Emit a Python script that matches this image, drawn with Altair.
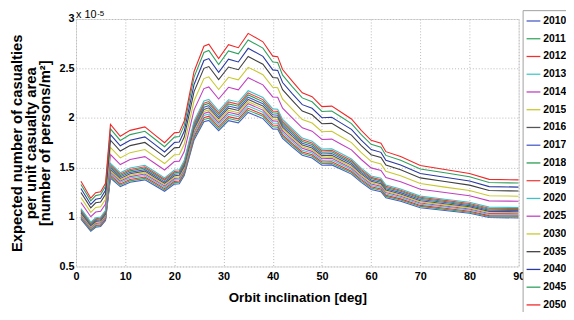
import altair as alt
import pandas as pd

# Orbit inclination [deg]
x_deg = [1, 3, 4, 5, 6, 7, 9, 11, 14, 16, 18, 20, 21, 22, 24, 26, 27, 29, 31, 33, 35,
         38, 40, 41, 42, 44, 46, 48, 50, 52, 54, 56, 58, 60, 62, 63, 66, 70, 75, 80, 84, 90]

years = ["2010", "2011", "2012", "2013", "2014", "2015", "2016", "2017", "2018",
         "2019", "2020", "2025", "2030", "2035", "2040", "2045", "2050"]

colors = ["#4a5cc8", "#3aa860", "#f03030", "#40c8c8", "#c040c0", "#c8c830", "#555555",
          "#4a5cc8", "#2a9a50", "#f04040", "#40c0c8", "#c040c0", "#c8c830", "#404040",
          "#2a3aa0", "#30a060", "#f02828"]

# values in units of 1e-5
y2010 = [0.979, 0.857, 0.896, 0.904, 0.965, 1.393, 1.307, 1.350, 1.375, 1.318, 1.260, 1.332, 1.336, 1.418, 1.778, 1.962, 1.976, 1.872, 1.973, 1.951, 2.056, 1.994, 1.890, 1.886, 1.793, 1.706, 1.624, 1.595, 1.523, 1.526, 1.480, 1.433, 1.350, 1.278, 1.256, 1.195, 1.159, 1.094, 1.066, 1.037, 0.994, 0.990]
y2011 = [0.990, 0.866, 0.906, 0.914, 0.976, 1.409, 1.321, 1.365, 1.390, 1.332, 1.274, 1.347, 1.350, 1.434, 1.798, 1.984, 1.998, 1.893, 1.995, 1.973, 2.078, 2.017, 1.911, 1.907, 1.813, 1.725, 1.642, 1.613, 1.540, 1.543, 1.496, 1.449, 1.365, 1.292, 1.270, 1.208, 1.172, 1.107, 1.077, 1.048, 1.005, 1.001]
y2012 = [1.000, 0.875, 0.915, 0.922, 0.985, 1.422, 1.334, 1.378, 1.404, 1.345, 1.286, 1.360, 1.363, 1.448, 1.815, 2.003, 2.018, 1.911, 2.014, 1.992, 2.098, 2.036, 1.929, 1.926, 1.830, 1.742, 1.657, 1.628, 1.555, 1.558, 1.510, 1.463, 1.378, 1.305, 1.283, 1.220, 1.183, 1.117, 1.088, 1.058, 1.014, 1.011]
y2013 = [1.010, 0.884, 0.925, 0.932, 0.996, 1.438, 1.349, 1.393, 1.419, 1.360, 1.300, 1.375, 1.378, 1.464, 1.835, 2.025, 2.040, 1.932, 2.036, 2.014, 2.121, 2.058, 1.950, 1.947, 1.850, 1.761, 1.675, 1.646, 1.571, 1.575, 1.527, 1.479, 1.393, 1.319, 1.297, 1.233, 1.196, 1.129, 1.100, 1.070, 1.025, 1.022]
y2014 = [1.021, 0.894, 0.935, 0.943, 1.006, 1.453, 1.363, 1.408, 1.434, 1.374, 1.314, 1.389, 1.393, 1.479, 1.855, 2.046, 2.061, 1.953, 2.058, 2.035, 2.144, 2.080, 1.971, 1.968, 1.870, 1.780, 1.694, 1.663, 1.588, 1.592, 1.543, 1.494, 1.408, 1.333, 1.310, 1.247, 1.209, 1.142, 1.111, 1.081, 1.036, 1.033]
y2015 = [1.031, 0.902, 0.944, 0.951, 1.016, 1.467, 1.376, 1.421, 1.448, 1.387, 1.327, 1.402, 1.406, 1.493, 1.872, 2.066, 2.081, 1.971, 2.077, 2.054, 2.164, 2.100, 1.990, 1.986, 1.887, 1.796, 1.709, 1.679, 1.603, 1.607, 1.558, 1.508, 1.421, 1.345, 1.323, 1.258, 1.220, 1.152, 1.122, 1.092, 1.046, 1.042]
y2016 = [1.042, 0.912, 0.954, 0.961, 1.026, 1.482, 1.390, 1.436, 1.463, 1.402, 1.341, 1.417, 1.421, 1.509, 1.892, 2.087, 2.103, 1.992, 2.099, 2.076, 2.187, 2.122, 2.011, 2.007, 1.907, 1.815, 1.727, 1.697, 1.620, 1.624, 1.574, 1.524, 1.436, 1.360, 1.337, 1.272, 1.233, 1.164, 1.134, 1.103, 1.057, 1.053]
y2017 = [1.053, 0.921, 0.964, 0.971, 1.037, 1.498, 1.405, 1.451, 1.478, 1.416, 1.355, 1.432, 1.436, 1.525, 1.912, 2.109, 2.125, 2.012, 2.121, 2.098, 2.210, 2.144, 2.032, 2.028, 1.927, 1.834, 1.745, 1.714, 1.637, 1.641, 1.591, 1.540, 1.451, 1.374, 1.351, 1.285, 1.246, 1.176, 1.146, 1.115, 1.068, 1.064]
y2018 = [1.064, 0.931, 0.974, 0.981, 1.048, 1.513, 1.419, 1.466, 1.494, 1.431, 1.369, 1.447, 1.451, 1.541, 1.932, 2.131, 2.147, 2.033, 2.143, 2.119, 2.233, 2.166, 2.053, 2.049, 1.947, 1.853, 1.763, 1.732, 1.654, 1.658, 1.607, 1.556, 1.466, 1.388, 1.365, 1.298, 1.259, 1.189, 1.157, 1.126, 1.079, 1.075]
y2019 = [1.073, 0.939, 0.982, 0.990, 1.057, 1.527, 1.432, 1.479, 1.507, 1.444, 1.381, 1.460, 1.464, 1.554, 1.949, 2.150, 2.166, 2.051, 2.162, 2.138, 2.253, 2.186, 2.071, 2.067, 1.965, 1.870, 1.779, 1.748, 1.669, 1.673, 1.621, 1.570, 1.479, 1.400, 1.377, 1.310, 1.270, 1.199, 1.168, 1.136, 1.089, 1.085]
y2020 = [1.084, 0.948, 0.992, 1.000, 1.068, 1.542, 1.447, 1.494, 1.522, 1.459, 1.395, 1.474, 1.478, 1.570, 1.969, 2.172, 2.188, 2.072, 2.184, 2.160, 2.275, 2.208, 2.092, 2.088, 1.985, 1.889, 1.797, 1.765, 1.686, 1.690, 1.638, 1.586, 1.494, 1.415, 1.391, 1.323, 1.283, 1.211, 1.180, 1.148, 1.100, 1.096]
y2025 = [1.146, 1.003, 1.050, 1.058, 1.130, 1.631, 1.530, 1.581, 1.610, 1.543, 1.475, 1.560, 1.564, 1.661, 2.082, 2.297, 2.314, 2.192, 2.310, 2.285, 2.407, 2.335, 2.213, 2.209, 2.099, 1.998, 1.901, 1.867, 1.783, 1.787, 1.732, 1.678, 1.581, 1.496, 1.471, 1.399, 1.357, 1.281, 1.248, 1.214, 1.163, 1.159]
y2030 = [1.197, 1.047, 1.096, 1.104, 1.179, 1.703, 1.597, 1.650, 1.681, 1.610, 1.540, 1.628, 1.632, 1.734, 2.174, 2.398, 2.416, 2.288, 2.411, 2.385, 2.512, 2.438, 2.310, 2.306, 2.191, 2.086, 1.984, 1.949, 1.861, 1.866, 1.808, 1.751, 1.650, 1.562, 1.536, 1.461, 1.417, 1.338, 1.302, 1.267, 1.214, 1.210]
y2035 = [1.248, 1.092, 1.143, 1.152, 1.230, 1.776, 1.666, 1.721, 1.753, 1.680, 1.607, 1.698, 1.703, 1.808, 2.267, 2.502, 2.520, 2.387, 2.515, 2.488, 2.621, 2.543, 2.410, 2.405, 2.286, 2.176, 2.070, 2.033, 1.942, 1.946, 1.886, 1.827, 1.721, 1.629, 1.602, 1.524, 1.478, 1.395, 1.359, 1.322, 1.267, 1.262]
y2040 = [1.288, 1.127, 1.179, 1.188, 1.269, 1.832, 1.719, 1.776, 1.809, 1.733, 1.657, 1.752, 1.757, 1.866, 2.339, 2.581, 2.600, 2.462, 2.595, 2.566, 2.704, 2.623, 2.486, 2.481, 2.358, 2.244, 2.135, 2.098, 2.003, 2.008, 1.946, 1.885, 1.776, 1.681, 1.653, 1.572, 1.525, 1.439, 1.402, 1.364, 1.307, 1.302]
y2045 = [1.329, 1.163, 1.216, 1.226, 1.309, 1.890, 1.773, 1.832, 1.866, 1.788, 1.710, 1.807, 1.812, 1.925, 2.413, 2.662, 2.682, 2.540, 2.677, 2.648, 2.789, 2.706, 2.565, 2.560, 2.433, 2.315, 2.203, 2.164, 2.066, 2.071, 2.008, 1.944, 1.832, 1.734, 1.705, 1.622, 1.573, 1.485, 1.446, 1.407, 1.348, 1.343]
y2050 = [1.360, 1.190, 1.245, 1.255, 1.340, 1.935, 1.815, 1.875, 1.910, 1.830, 1.750, 1.850, 1.855, 1.970, 2.470, 2.725, 2.745, 2.600, 2.740, 2.710, 2.855, 2.770, 2.625, 2.620, 2.490, 2.370, 2.255, 2.215, 2.115, 2.120, 2.055, 1.990, 1.875, 1.775, 1.745, 1.660, 1.610, 1.520, 1.480, 1.440, 1.380, 1.375]

series = dict(zip(years, [y2010, y2011, y2012, y2013, y2014, y2015, y2016, y2017, y2018,
                          y2019, y2020, y2025, y2030, y2035, y2040, y2045, y2050]))

y_ticks = [0.5, 1, 1.5, 2, 2.5, 3]
x_ticks = [0, 10, 20, 30, 40, 50, 60, 70, 80, 90]

rows = []
for yr in years:
    for xv, yv in zip(x_deg, series[yr]):
        rows.append({"inc": xv, "val": yv, "year": yr})
df = pd.DataFrame(rows)

FONT = "Liberation Sans"
W, H = 449, 251

lines = alt.Chart(df).mark_line(strokeWidth=1.1, clip=True).encode(
    x=alt.X("inc:Q", scale=alt.Scale(domain=[0, 90], nice=False),
            axis=alt.Axis(values=x_ticks, title="Orbit inclination [deg]", grid=True,
                          ticks=False, domain=False, labelFlush=False,
                          labelFont=FONT, labelFontWeight="bold", labelFontSize=11,
                          labelColor="black", labelPadding=4,
                          titleFont=FONT, titleFontSize=13.5, titleFontWeight="bold",
                          titleColor="black", titlePadding=10,
                          gridColor="#b8b8b8", gridDash=[1, 2], gridWidth=1)),
    y=alt.Y("val:Q", scale=alt.Scale(domain=[0.5, 3], nice=False, zero=False),
            axis=alt.Axis(values=y_ticks, format="~g", title=None, grid=True,
                          ticks=False, domain=False,
                          labelFont=FONT, labelFontWeight="bold", labelFontSize=11,
                          labelColor="black", labelPadding=2,
                          gridColor="#b8b8b8", gridDash=[1, 2], gridWidth=1)),
    color=alt.Color("year:N", scale=alt.Scale(domain=years, range=colors),
                    legend=alt.Legend(title=None, orient="none", legendX=453, legendY=-9,
                                      symbolType="stroke", symbolSize=196,
                                      symbolStrokeWidth=1.3,
                                      labelFont=FONT, labelFontWeight="bold",
                                      labelFontSize=10.5, labelColor="black",
                                      labelOffset=2, rowPadding=4, padding=3,
                                      strokeColor="#a0a0a0", fillColor="white",
                                      labelLimit=40)),
)

def txt(s, x, y, size, weight="bold", angle=0, align="center", baseline="middle"):
    return alt.Chart(pd.DataFrame({"t": [s]})).mark_text(
        font=FONT, fontSize=size, fontWeight=weight, angle=angle, align=align,
        baseline=baseline, color="black"
    ).encode(text="t:N", x=alt.value(x), y=alt.value(y))

ytitle1 = txt("Expected number of casualties", -55, 126, 15, angle=270, baseline="alphabetic")
ytitle2 = txt("per unit casualty area", -40.5, 126, 15, angle=270, baseline="alphabetic")
ytitle3 = txt("[number of persons/m\u00b2]", -26, 126, 15, angle=270, baseline="alphabetic")
exp1 = txt("x 10", 0, -1, 11, weight="normal", align="left", baseline="alphabetic")
exp2 = txt("-5", 21.5, -9, 8, weight="normal", align="left", baseline="top")

chart = alt.layer(lines, ytitle1, ytitle2, ytitle3, exp1, exp2).properties(
    width=W, height=H,
    padding={"left": 69, "top": 9, "right": 48, "bottom": 44},
    autosize=alt.AutoSizeParams(type="none"),
).configure_view(stroke="#666666", strokeWidth=1).configure(background="white")

chart.save("out.html", embed_options={"renderer": "svg", "actions": False})
